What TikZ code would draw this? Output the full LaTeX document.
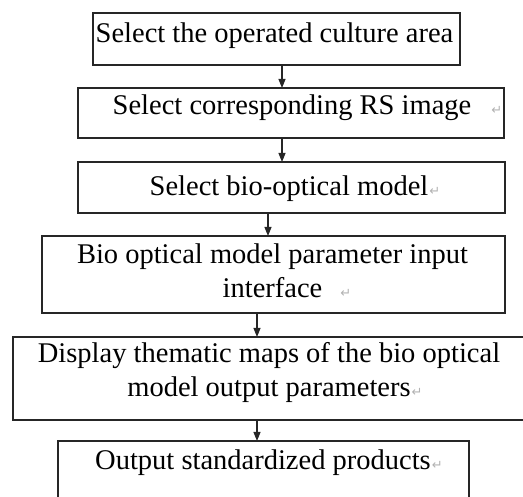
\documentclass[tikz,border=0pt]{standalone}
\usepackage{fontspec}
\setmainfont{Liberation Serif}
\newfontfamily\symfont{DejaVu Sans}
\usetikzlibrary{arrows.meta}

% Word paragraph mark after a line (no width, so centring ignores it)
\newcommand{\pmark}[1][1pt]{\rlap{\hspace{#1}{\symfont\fontsize{13}{13}\selectfont\color{gray!60}↵}}}

\begin{document}
\begin{tikzpicture}[x=1pt,y=-1pt,
    box/.style={draw=black!85,line width=1.1pt,inner sep=0pt,outer sep=0pt,anchor=north west},
    txt/.style={inner sep=0pt,anchor=base,align=center,font=\fontsize{28.5}{34}\selectfont},
    arr/.style={-{Triangle[width=7pt,length=9pt]},line width=1.1pt,black!85}]

\useasboundingbox (0,0) rectangle (523,497);

% Boxes
\node[box,minimum width=367pt,minimum height=52pt] (b1) at (93,13) {};
\node[box,minimum width=426pt,minimum height=50pt] (b2) at (78,88) {};
\node[box,minimum width=427pt,minimum height=51pt] (b3) at (78,162) {};
\node[box,minimum width=463pt,minimum height=77pt] (b4) at (42,236) {};
\node[box,minimum width=515pt,minimum height=83pt] (b5) at (13,337) {};
\node[box,minimum width=411pt,minimum height=65pt] (b6) at (58,441) {};

% Texts (base = last line)
\node[txt] (t1) at (274.5,43) {Select the operated culture area};
\node[txt] (t2) at (292,115) {Select corresponding RS image\pmark[20pt]};
\node[txt] (t3) at (289,196) {Select bio-optical model\pmark};
\node[txt] (t4) at (272.5,298) {Bio optical model parameter input\\interface\pmark[18pt]};
\node[txt] (t5) at (269,397) {Display thematic maps of the bio optical\\model output parameters\pmark};
\node[txt] (t6) at (263,470) {Output standardized products\pmark};

% Arrow columns
\coordinate (c1) at (282,0);
\coordinate (c2) at (268,0);
\coordinate (c3) at (257,0);

% Arrows
\draw[arr] (b1.south -| c1) -- (b2.north -| c1);
\draw[arr] (b2.south -| c1) -- (b3.north -| c1);
\draw[arr] (b3.south -| c2) -- (b4.north -| c2);
\draw[arr] (b4.south -| c3) -- (b5.north -| c3);
\draw[arr] (b5.south -| c3) -- (b6.north -| c3);

\end{tikzpicture}
\end{document}
